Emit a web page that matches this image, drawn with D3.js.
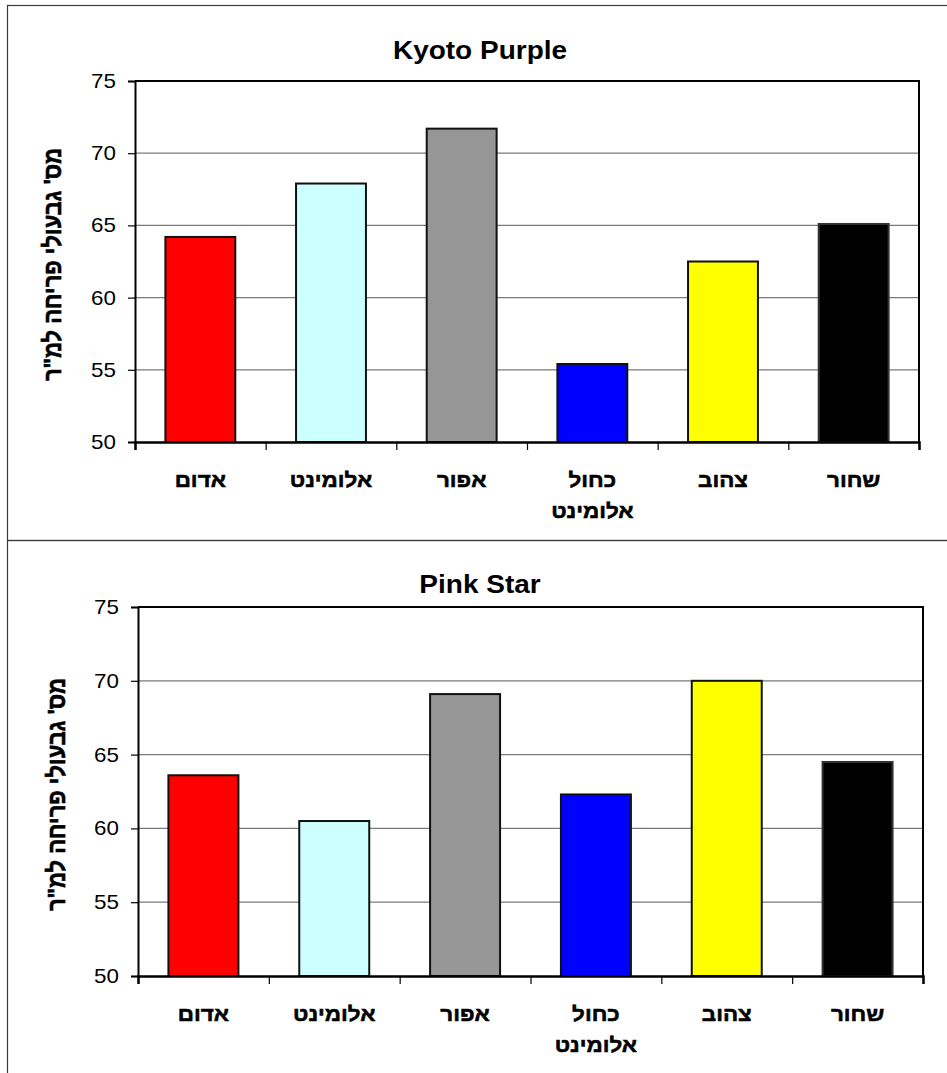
<!DOCTYPE html>
<html>
<head>
<meta charset="utf-8">
<script src="https://cdn.jsdelivr.net/npm/d3@7"></script>
<style>
  html, body { margin: 0; padding: 0; background: #fff; }
  svg { display: block; }
  text { font-family: "Liberation Sans", Arial, sans-serif; fill: #000; }
  .heb { stroke: #000; stroke-width: 0.55px; paint-order: stroke; }
</style>
</head>
<body>
<svg id="chart" width="947" height="1073"></svg>
<script>
// ── Data ─────────────────────────────────────────────────────────────────────

const categories  = ["אדום", "אלומינט", "אפור", "כחול אלומינט", "צהוב", "שחור"];
const barColors   = ["#ff0000", "#ccffff", "#969696", "#0000ff", "#ffff00", "#000000"];
const kyotoPurple = [64.2, 67.9, 71.7, 55.4, 62.5, 65.1];
const pinkStar    = [63.6, 60.5, 69.1, 62.3, 70.0, 64.5];
const yTicks      = [50, 55, 60, 65, 70, 75];
const yDomain     = [50, 75];
const yLabel      = "מס' גבעולי פריחה למ\"ר";

// text in the reference is slightly stretched sideways
const SX = 1.12;

const svg = d3.select("#chart");

// ── Frames ───────────────────────────────────────────────────────────────────

svg.append("rect")
  .attr("x", 7.5).attr("y", 5.5).attr("width", 960).attr("height", 535)
  .attr("fill", "none").attr("stroke", "#3a3a3a").attr("stroke-width", 1.2);
svg.append("rect")
  .attr("x", 7.5).attr("y", 540.5).attr("width", 960).attr("height", 600)
  .attr("fill", "none").attr("stroke", "#3a3a3a").attr("stroke-width", 1.2);

// ── One panel ────────────────────────────────────────────────────────────────

function drawPanel(opt) {
  const { title, values, left, right, top, bottom, titleY, labelX } = opt;

  const x = d3.scaleBand().domain(categories).range([left, right])
    .paddingInner(0.465).paddingOuter(0.2325);
  const xEdge = d3.scaleLinear().domain([0, categories.length]).range([left, right]);
  const y = d3.scaleLinear().domain(yDomain).range([bottom, top]);

  const g = svg.append("g");

  // Title
  g.append("text")
    .attr("transform", `translate(480,${titleY}) scale(${SX},1)`)
    .attr("text-anchor", "middle")
    .attr("font-size", 25).attr("font-weight", "bold")
    .text(title);

  // Gridlines
  g.append("g")
    .selectAll("line")
    .data(yTicks.slice(1, -1))
    .join("line")
    .attr("x1", left).attr("x2", right)
    .attr("y1", d => y(d)).attr("y2", d => y(d))
    .attr("stroke", "#7a7a7a").attr("stroke-width", 1.3);

  // Bars
  g.append("g")
    .selectAll("rect")
    .data(values)
    .join("rect")
    .attr("x", (d, i) => x(categories[i]))
    .attr("y", d => y(d))
    .attr("width", x.bandwidth())
    .attr("height", d => y(yDomain[0]) - y(d))
    .attr("fill", (d, i) => barColors[i])
    .attr("stroke", (d, i) => i === 5 ? "#333" : "#111")
    .attr("stroke-width", 2);

  // Plot border (top + right)
  g.append("path")
    .attr("d", `M${left},${top}H${right}V${bottom}`)
    .attr("fill", "none").attr("stroke", "#000").attr("stroke-width", 2);

  // Y axis
  const yAxis = g.append("g")
    .attr("transform", `translate(${left},0)`)
    .call(d3.axisLeft(y).tickValues(yTicks).tickSize(7).tickPadding(12).tickFormat(d3.format("d")));
  yAxis.select(".domain").attr("stroke", "#000").attr("stroke-width", 2);
  yAxis.selectAll(".tick line").attr("stroke", "#000").attr("stroke-width", 1.2);
  yAxis.selectAll(".tick text")
    .attr("font-family", null).attr("font-size", 20)
    .attr("x", -19 / SX)
    .attr("transform", `scale(${SX},1)`);

  // X axis: edge ticks
  const xAxis = g.append("g")
    .attr("transform", `translate(0,${bottom})`)
    .call(d3.axisBottom(xEdge).ticks(categories.length).tickSize(8).tickFormat(""));
  xAxis.select(".domain").attr("stroke", "#000").attr("stroke-width", 2.5);
  xAxis.selectAll(".tick line").attr("stroke", "#000").attr("stroke-width", 1.2);

  // X axis: category labels (wrapped on space)
  const labels = g.append("g")
    .selectAll("text")
    .data(categories)
    .join("text")
    .attr("class", "heb")
    .attr("transform", d => `translate(${x(d) + x.bandwidth() / 2},${bottom + 45}) scale(${SX},1)`)
    .attr("text-anchor", "middle")
    .attr("font-size", 20).attr("font-weight", "bold");
  labels.selectAll("tspan")
    .data(d => d.split(" "))
    .join("tspan")
    .attr("x", 0)
    .attr("y", (d, i) => i * 31)
    .text(d => d);

  // Y axis title
  g.append("text")
    .attr("class", "heb")
    .attr("transform", `translate(${labelX},${(top + bottom) / 2 + 3}) scale(${SX},1) rotate(-90)`)
    .attr("text-anchor", "middle")
    .attr("dy", "0.36em")
    .attr("font-size", 22).attr("font-weight", "bold")
    .text(yLabel);
}

drawPanel({
  title: "Kyoto Purple", values: kyotoPurple,
  left: 135, right: 919, top: 81, bottom: 442,
  titleY: 59, labelX: 52
});

drawPanel({
  title: "Pink Star", values: pinkStar,
  left: 138, right: 923, top: 607, bottom: 976,
  titleY: 593, labelX: 56
});
</script>
</body>
</html>
